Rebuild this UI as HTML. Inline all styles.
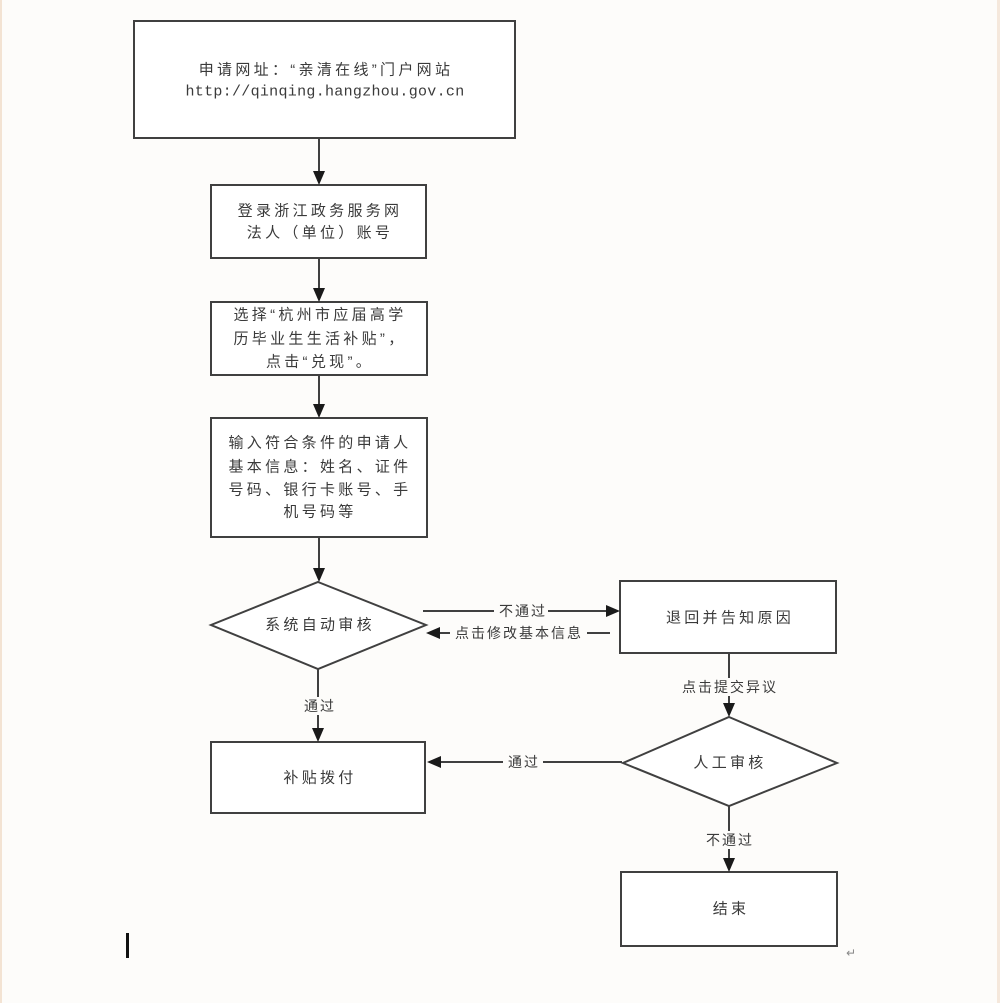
<!DOCTYPE html>
<html>
<head>
<meta charset="utf-8">
<style>
  html,body{margin:0;padding:0;background:#fdfcfa;}
  body{width:1000px;height:1003px;overflow:hidden;position:relative;}
  svg{position:absolute;left:0;top:0;}
  .t{font-family:"Liberation Sans","Noto Sans CJK SC",sans-serif;font-size:15px;fill:#3a3a3a;letter-spacing:3.3px;}
  .l{font-family:"Liberation Sans","Noto Sans CJK SC",sans-serif;font-size:14px;fill:#3a3a3a;letter-spacing:2px;}
  .m{font-family:"Liberation Mono",monospace;font-size:15px;fill:#3a3a3a;letter-spacing:0.3px;}
</style>
</head>
<body>
<svg width="1000" height="1003" viewBox="0 0 1000 1003" xmlns="http://www.w3.org/2000/svg">
  <rect x="0" y="0" width="1000" height="1003" fill="#fdfcfa"/>
  <rect x="0" y="0" width="2" height="1003" fill="#f3e3d3"/>
  <rect x="997" y="0" width="3" height="1003" fill="#f5e8dc"/>

  <g fill="#fff" stroke="#404040" stroke-width="2">
    <rect x="134" y="21" width="381" height="117"/>
    <rect x="211" y="185" width="215" height="73"/>
    <rect x="211" y="302" width="216" height="73"/>
    <rect x="211" y="418" width="216" height="119"/>
    <polygon points="318,582 426,625 318,669 211,625"/>
    <rect x="620" y="581" width="216" height="72"/>
    <rect x="211" y="742" width="214" height="71"/>
    <polygon points="729,717 837,763 729,806 623,763"/>
    <rect x="621" y="872" width="216" height="74"/>
  </g>

  <!-- connectors -->
  <g stroke="#404040" stroke-width="2" fill="none">
    <line x1="319" y1="138" x2="319" y2="175"/>
    <line x1="319" y1="258" x2="319" y2="292"/>
    <line x1="319" y1="375" x2="319" y2="408"/>
    <line x1="319" y1="537" x2="319" y2="572"/>
    <line x1="423" y1="611" x2="610" y2="611"/>
    <line x1="610" y1="633" x2="435" y2="633"/>
    <line x1="318" y1="669" x2="318" y2="732"/>
    <line x1="729" y1="653" x2="729" y2="707"/>
    <line x1="622" y1="762" x2="437" y2="762"/>
    <line x1="729" y1="806" x2="729" y2="862"/>
  </g>
  <g fill="#1a1a1a">
    <polygon points="313,171 325,171 319,185"/>
    <polygon points="313,288 325,288 319,302"/>
    <polygon points="313,404 325,404 319,418"/>
    <polygon points="313,568 325,568 319,582"/>
    <polygon points="606,605 606,617 620,611"/>
    <polygon points="440,627 440,639 426,633"/>
    <polygon points="312,728 324,728 318,742"/>
    <polygon points="723,703 735,703 729,717"/>
    <polygon points="441,756 441,768 427,762"/>
    <polygon points="723,858 735,858 729,872"/>
  </g>

  <!-- label backgrounds -->
  <g fill="#fdfcfa">
    <rect x="494" y="603" width="54" height="16"/>
    <rect x="450" y="625" width="137" height="16"/>
    <rect x="300" y="697" width="38" height="18"/>
    <rect x="680" y="678" width="98" height="18"/>
    <rect x="503" y="754" width="40" height="16"/>
    <rect x="703" y="831" width="52" height="18"/>
  </g>

  <!-- node text -->
  <g text-anchor="middle" dominant-baseline="central">
    <text class="t" x="326" y="70">申请网址：“亲清在线”门户网站</text>
    <text class="m" x="325" y="92">http://qinqing.hangzhou.gov.cn</text>

    <text class="t" x="320" y="211">登录浙江政务服务网</text>
    <text class="t" x="320" y="233">法人（单位）账号</text>

    <text class="t" x="320" y="315">选择“杭州市应届高学</text>
    <text class="t" x="320" y="339">历毕业生生活补贴”，</text>
    <text class="t" x="320" y="362">点击“兑现”。</text>

    <text class="t" x="320" y="443">输入符合条件的申请人</text>
    <text class="t" x="320" y="467">基本信息：姓名、证件</text>
    <text class="t" x="320" y="490">号码、银行卡账号、手</text>
    <text class="t" x="320" y="512">机号码等</text>

    <text class="t" x="320" y="625">系统自动审核</text>
    <text class="t" x="730" y="618">退回并告知原因</text>
    <text class="t" x="320" y="778">补贴拨付</text>
    <text class="t" x="730" y="763">人工审核</text>
    <text class="t" x="731" y="909">结束</text>

    <!-- connector labels -->
    <text class="l" x="523" y="611">不通过</text>
    <text class="l" x="519" y="633">点击修改基本信息</text>
    <text class="l" x="320" y="706">通过</text>
    <text class="l" x="730" y="687">点击提交异议</text>
    <text class="l" x="524" y="762">通过</text>
    <text class="l" x="730" y="840">不通过</text>
  </g>

  <!-- cursor & return mark -->
  <rect x="126" y="933" width="3" height="25" fill="#111"/>
  <text x="846" y="957" font-family="'DejaVu Sans',sans-serif" font-size="12" fill="#888">↵</text>
</svg>
</body>
</html>
